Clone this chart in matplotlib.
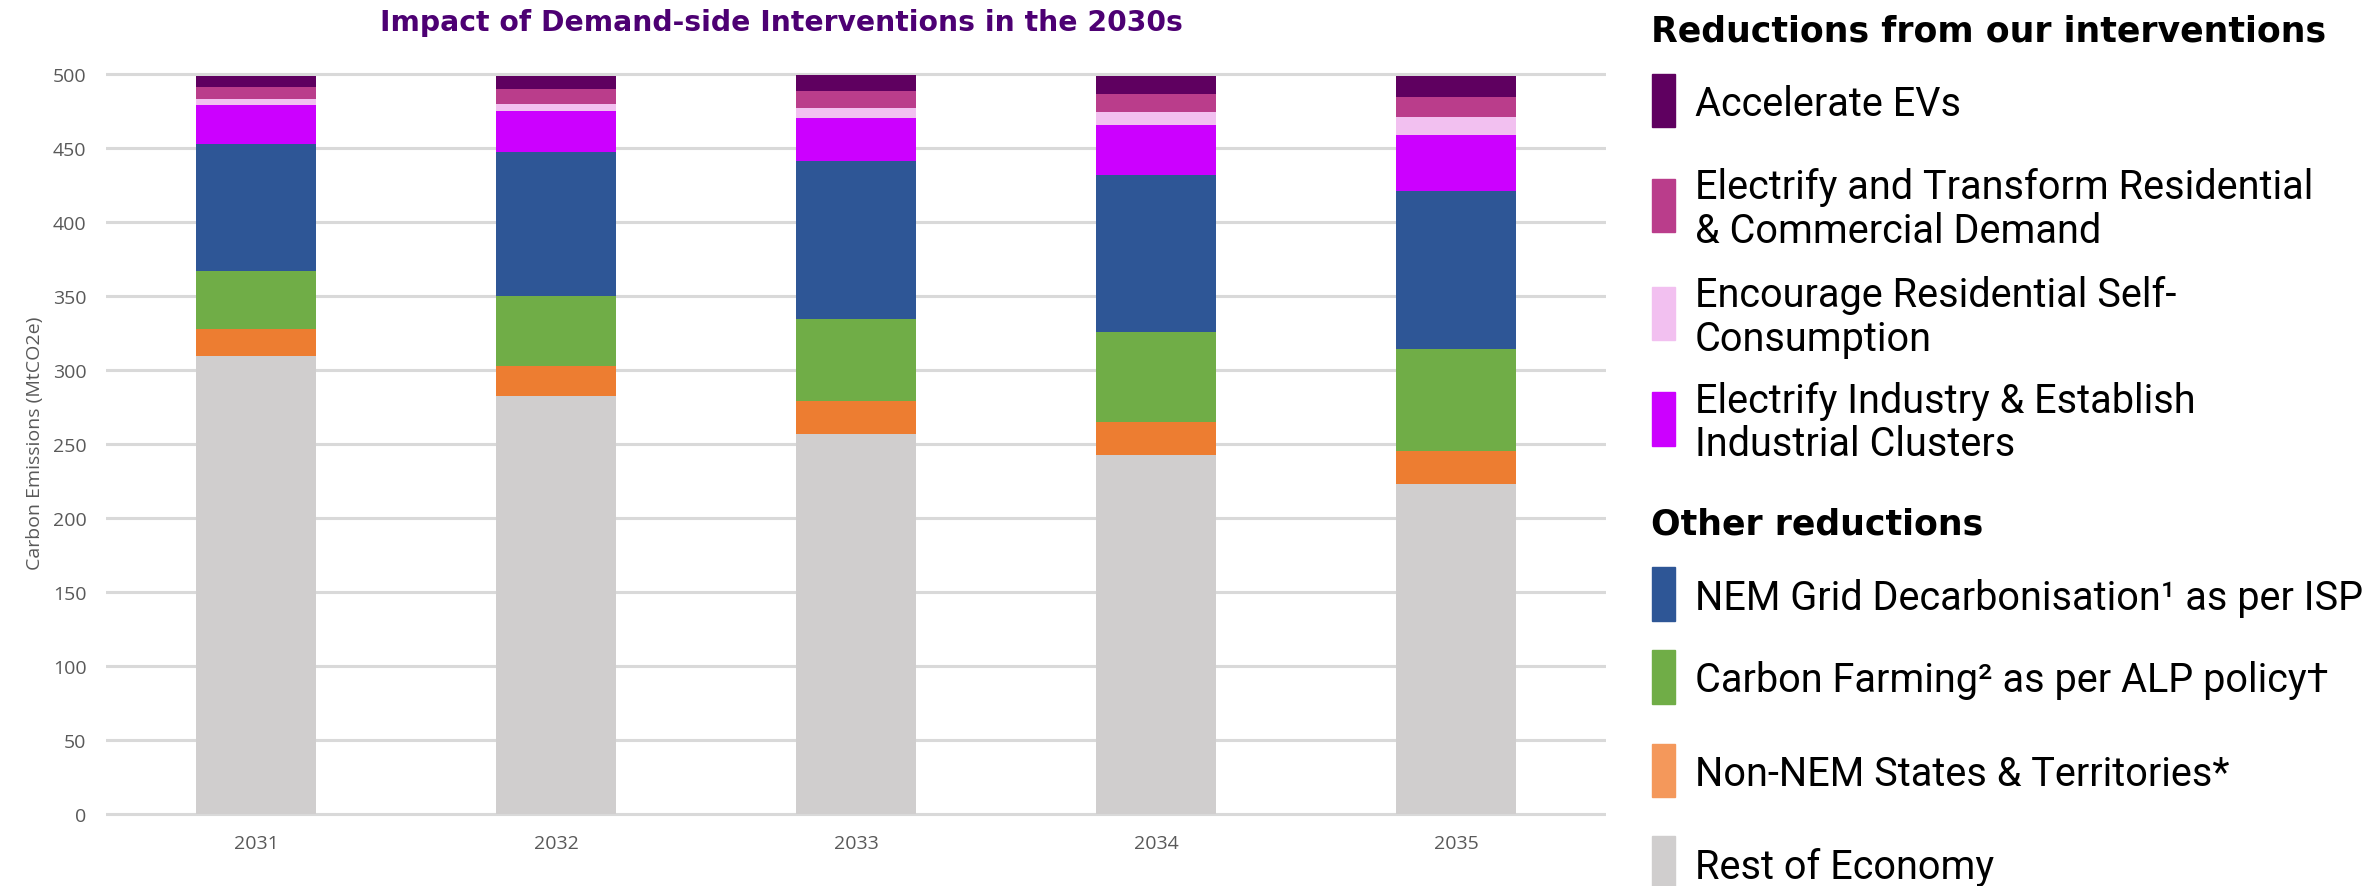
import matplotlib
matplotlib.use('Agg')
import matplotlib.pyplot as plt
from matplotlib.patches import Rectangle
import numpy as np

### Emissions by year (MtCO2e), stacked bottom to top
years = ['2031', '2032', '2033', '2034', '2035']
rest_of_economy = [309.7, 282.6, 256.5, 242.3, 223.1]
non_nem = [18.0, 20.3, 22.5, 22.3, 22.4]
carbon_farming = [39.0, 47.3, 55.4, 61.3, 68.9]
nem_grid = [86.2, 96.9, 106.5, 106.0, 106.8]
electrify_industry = [26.2, 27.7, 29.5, 33.4, 37.4]
self_consumption = [4.0, 4.9, 6.8, 9.0, 12.1]
electrify_res_com = [7.8, 9.9, 11.2, 12.2, 14.0]
accelerate_evs = [7.5, 8.8, 10.6, 12.1, 13.9]
y_ticks = [0, 50, 100, 150, 200, 250, 300, 350, 400, 450, 500]

series = [
    (rest_of_economy, '#D0CECE'),
    (non_nem, '#ED7D31'),
    (carbon_farming, '#70AD47'),
    (nem_grid, '#2E5696'),
    (electrify_industry, '#CC00FF'),
    (self_consumption, '#F2C0F0'),
    (electrify_res_com, '#BA3D8B'),
    (accelerate_evs, '#5F0060'),
]

W, H = 2372, 887
fig = plt.figure(figsize=(W / 100, H / 100), dpi=100)

def fx(px):
    return px / W

def fy(py):
    return 1 - py / H

ax = fig.add_axes([fx(106), fy(819.4), fx(1606) - fx(106), fy(67.6) - fy(819.4)])
x = np.arange(len(years))
bottom = np.zeros(len(years))
for vals, col in series:
    ax.bar(x, vals, 0.4, bottom=bottom, color=col, edgecolor='none', zorder=3)
    bottom += np.array(vals)

ax.set_xlim(-0.5, len(years) - 0.5)
ax.set_ylim(-3, 505)
ax.set_yticks(y_ticks)
ax.set_xticks(x)
ax.set_xticklabels(years)
for s in ax.spines.values():
    s.set_visible(False)
ax.grid(axis='y', color='#D9D9D9', linewidth=2.2, zorder=0)
ax.tick_params(length=0, labelsize=14, labelcolor='#595959')
ax.tick_params(axis='y', pad=14)
ax.tick_params(axis='x', pad=11)
for lbl in ax.get_xticklabels() + ax.get_yticklabels():
    lbl.set_family('Open Sans')
ax.set_ylabel('Carbon Emissions (MtCO2e)', fontsize=14, color='#595959',
              family='Open Sans', labelpad=6)

fig.text(fx(781), fy(23), 'Impact of Demand-side Interventions in the 2030s',
         ha='center', va='center', fontsize=20.3, fontweight='bold',
         family='DejaVu Sans', color='#4D0073')

### Legend drawn by hand: two headed groups
head_kw = dict(fontsize=25, fontweight='bold', family='DejaVu Sans', color='black', va='center')
item_kw = dict(fontsize=28.5, family='Roboto', color='black', va='center', linespacing=1.15)
fig.text(fx(1651), fy(32), 'Reductions from our interventions', **head_kw)
fig.text(fx(1651), fy(525), 'Other reductions', **head_kw)

legend_rows = [
    ('Accelerate EVs', '#5F0060', 75, 128),
    ('Electrify and Transform Residential\n& Commercial Demand', '#BA3D8B', 180, 233),
    ('Encourage Residential Self-\nConsumption', '#F2C0F0', 288, 341),
    ('Electrify Industry & Establish\nIndustrial Clusters', '#CC00FF', 393, 447),
    ('NEM Grid Decarbonisation\u00b9 as per ISP', '#2E5696', 568, 622),
    ('Carbon Farming\u00b2 as per ALP policy\u2020', '#70AD47', 651, 705),
    ('Non-NEM States & Territories*', '#F4985B', 745, 798),
    ('Rest of Economy', '#D0CECE', 837, 892),
]
for label, col, top, bot in legend_rows:
    fig.add_artist(Rectangle((fx(1652), fy(bot)), fx(23), fy(top) - fy(bot),
                             transform=fig.transFigure, color=col, clip_on=False))
    fig.text(fx(1695), fy((top + bot) / 2 + 3), label, **item_kw)

fig.savefig('out.png', dpi=100)
